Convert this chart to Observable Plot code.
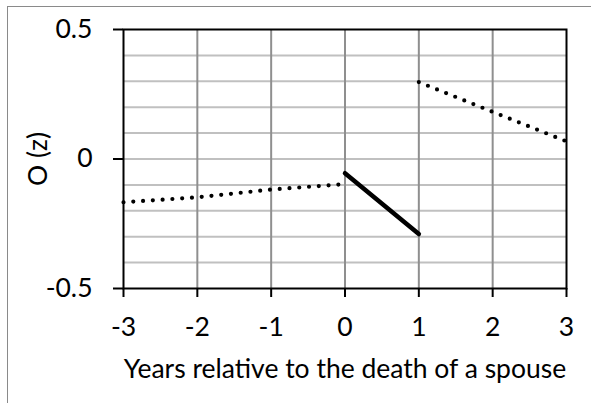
<!DOCTYPE html>
<html>
<head>
<meta charset="utf-8">
<script src="https://cdn.jsdelivr.net/npm/d3@7"></script>
<script src="https://cdn.jsdelivr.net/npm/@observablehq/plot@0.6"></script>
<style>
  html, body { margin: 0; padding: 0; background: #fff; }
  #wrap { position: relative; width: 591px; height: 403px; overflow: hidden; }
  #box { position: absolute; left: 7px; top: 6px; width: 600px; height: 420px;
         border-top: 1.5px solid #8a8a8a; border-left: 1.5px solid #8a8a8a; box-sizing: border-box; pointer-events: none; }
  svg { font-family: Lato, "Open Sans", sans-serif; }
</style>
</head>
<body>
<div id="wrap"><div id="box"></div></div>
<script>
const yearsBefore = [-3, -2, -1, 0];
const valuesBefore = [-0.167, -0.148, -0.118, -0.097];
const yearsDeath = [0, 1];
const valuesDeath = [-0.055, -0.29];
const yearsAfter = [1, 2, 3];
const valuesAfter = [0.297, 0.182, 0.068];
const xTicks = [-3, -2, -1, 0, 1, 2, 3];
const xGrid = [-2, -1, 0, 1, 2];
const yTicks = [-0.5, 0, 0.5];
const yGrid = [-0.4, -0.3, -0.2, -0.1, 0, 0.1, 0.2, 0.3, 0.4];
const xLabel = "Years relative to the death of a spouse";
const yLabel = "O (z)";

const before = yearsBefore.map((x, i) => ({x, y: valuesBefore[i]}));
const death = yearsDeath.map((x, i) => ({x, y: valuesDeath[i]}));
const after = yearsAfter.map((x, i) => ({x, y: valuesAfter[i]}));

const fmt = d => String(d);
const FS = 26.5;

const chart = Plot.plot({
  width: 591,
  height: 403,
  marginTop: 29,
  marginBottom: 115,
  marginLeft: 123,
  marginRight: 25,
  style: {fontSize: FS + "px", fontFamily: "Lato, 'Open Sans', sans-serif", color: "#000", background: "transparent"},
  x: {domain: [-3, 3]},
  y: {domain: [-0.5, 0.5]},
  marks: [
    Plot.gridY(yGrid, {stroke: "#c0c0c0", strokeOpacity: 1, strokeWidth: 2}),
    Plot.gridX(xGrid, {stroke: "#8f8f8f", strokeOpacity: 1, strokeWidth: 2}),
    Plot.frame({stroke: "#000", strokeWidth: 2}),
    Plot.axisX(xTicks, {tickSize: 9, tickPadding: 20, tickFormat: fmt, strokeWidth: 2, stroke: "#000", label: null, fontSize: FS}),
    Plot.axisY(yTicks, {tickSize: 10, tickPadding: 21, tickFormat: fmt, strokeWidth: 2, stroke: "#000", label: null, fontSize: FS}),
    Plot.line(before, {x: "x", y: "y", stroke: "#000", strokeWidth: 4.2, strokeDasharray: "0,9.8", strokeLinecap: "round"}),
    Plot.line(after, {x: "x", y: "y", stroke: "#000", strokeWidth: 4.2, strokeDasharray: "0,9.8", strokeLinecap: "round"}),
    Plot.line(death, {x: "x", y: "y", stroke: "#000", strokeWidth: 4.5}),
    Plot.text([xLabel], {frameAnchor: "bottom", dy: 81, text: d => d, fontSize: FS, fill: "#000", lineAnchor: "middle", textAnchor: "middle"}),
    Plot.text([yLabel], {frameAnchor: "left", dx: -85, text: d => d, fontSize: FS, fill: "#000", rotate: -90, textAnchor: "middle", lineAnchor: "middle"})
  ]
});
document.getElementById("wrap").prepend(chart);
chart.style.position = "absolute";
chart.style.left = "0";
chart.style.top = "0";
</script>
</body>
</html>
